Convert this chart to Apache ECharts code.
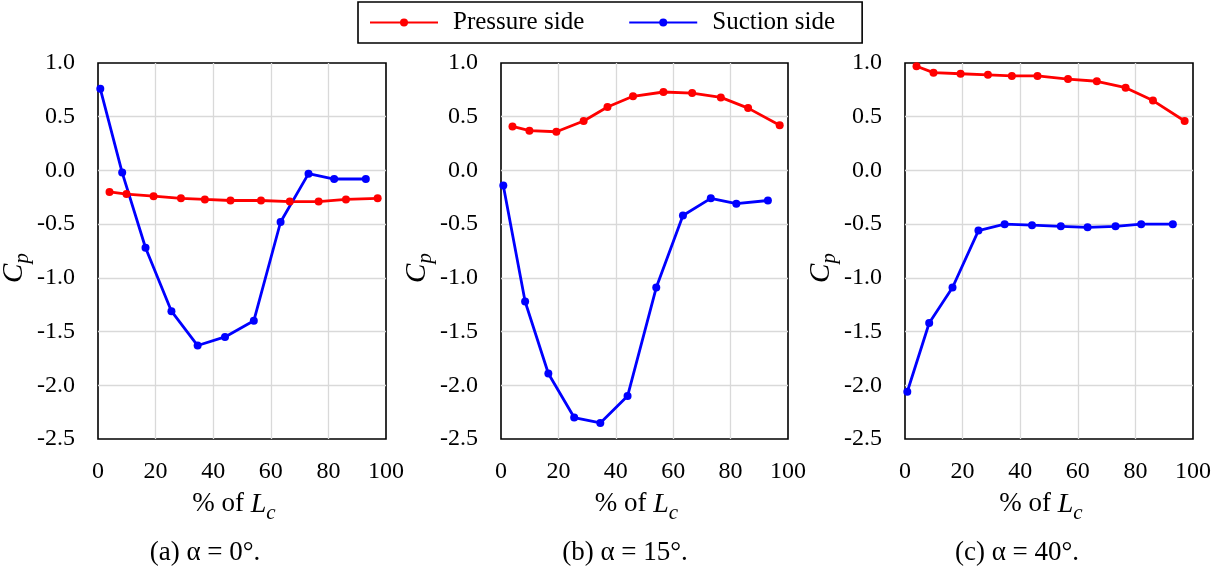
<!DOCTYPE html>
<html>
<head>
<meta charset="utf-8">
<script src="https://cdn.jsdelivr.net/npm/echarts@6/dist/echarts.min.js"></script>
<style>
  html, body { margin: 0; padding: 0; background: #fff; }
  #chart { width: 1226px; height: 566px; }
</style>
</head>
<body>
<div id="chart"></div>
<script>
// Chord positions (% of L_c) of the pressure taps on each side of the blade
const pressureX = [4.0, 9.9, 19.3, 28.8, 37.1, 46.0, 56.6, 66.6, 76.6, 86.1, 97.1];
const suctionX  = [0.8, 8.4, 16.5, 25.5, 34.6, 44.1, 54.1, 63.4, 73.1, 82.0, 93.0];

// Pressure coefficient Cp, one pair of arrays per angle of attack
const pressure0  = [-0.20, -0.22, -0.24, -0.26, -0.27, -0.28, -0.28, -0.29, -0.29, -0.27, -0.26];
const suction0   = [0.76, -0.02, -0.72, -1.31, -1.63, -1.55, -1.40, -0.48, -0.03, -0.08, -0.08];
const pressure15 = [0.41, 0.37, 0.36, 0.46, 0.59, 0.69, 0.73, 0.72, 0.68, 0.58, 0.42];
const suction15  = [-0.14, -1.22, -1.89, -2.30, -2.35, -2.10, -1.09, -0.42, -0.26, -0.31, -0.28];
const pressure40 = [0.97, 0.91, 0.90, 0.89, 0.88, 0.88, 0.85, 0.83, 0.77, 0.65, 0.46];
const suction40  = [-2.06, -1.42, -1.09, -0.56, -0.50, -0.51, -0.52, -0.53, -0.52, -0.50, -0.50];

const captions = ['(a) \u03b1 = 0\u00b0.', '(b) \u03b1 = 15\u00b0.', '(c) \u03b1 = 40\u00b0.'];
const seriesNames = ['Pressure side', 'Suction side'];

const FONT = 'Liberation Serif';
const RED = '#ff0000';
const BLUE = '#0000ff';

// Panel frames: left edge, width and caption centre
const panels = [
  { left: 98,  width: 288, cap: 205,  p: pressure0,  s: suction0 },
  { left: 501, width: 287, cap: 625,  p: pressure15, s: suction15 },
  { left: 905, width: 288, cap: 1017, p: pressure40, s: suction40 }
];
const TOP = 63, HEIGHT = 376;

const zip = (xs, ys) => xs.map((x, i) => [x, ys[i]]);

const grids = [], xAxes = [], yAxes = [], series = [], graphics = [];

panels.forEach((pn, i) => {
  grids.push({
    left: pn.left, top: TOP, width: pn.width, height: HEIGHT,
    show: true, borderColor: '#000', borderWidth: 1.6, backgroundColor: 'transparent'
  });
  xAxes.push({
    type: 'value', gridIndex: i, min: 0, max: 100, interval: 20,
    axisLine: { show: false }, axisTick: { show: false },
    axisLabel: { fontFamily: FONT, fontSize: 24, color: '#000', margin: 21 },
    splitLine: { show: true, showMinLine: false, showMaxLine: false,
                 lineStyle: { color: '#d9d9d9', width: 1.3 } }
  });
  yAxes.push({
    type: 'value', gridIndex: i, min: -2.5, max: 1, interval: 0.5,
    axisLine: { show: false }, axisTick: { show: false },
    axisLabel: { fontFamily: FONT, fontSize: 24, color: '#000', margin: 23,
                 formatter: v => v.toFixed(1) },
    splitLine: { show: true, showMinLine: false, showMaxLine: false,
                 lineStyle: { color: '#d9d9d9', width: 1.3 } }
  });
  [[seriesNames[0], pn.p, pressureX, RED], [seriesNames[1], pn.s, suctionX, BLUE]].forEach(([name, ys, xs, col]) => {
    series.push({
      name, type: 'line', xAxisIndex: i, yAxisIndex: i,
      data: zip(xs, ys), clip: false,
      symbol: 'circle', symbolSize: 8, showSymbol: true,
      itemStyle: { color: col }, lineStyle: { color: col, width: 2.8 }
    });
  });

  // y-axis title C_p
  graphics.push({
    type: 'text', x: pn.left - 82, y: 268, rotation: Math.PI / 2,
    style: {
      text: '{c|C}{s|p}', align: 'center', verticalAlign: 'middle',
      rich: {
        c: { fontFamily: FONT, fontStyle: 'italic', fontSize: 29, lineHeight: 29, verticalAlign: 'top', fill: '#000' },
        s: { fontFamily: FONT, fontStyle: 'italic', fontSize: 21, lineHeight: 33, verticalAlign: 'bottom', fill: '#000' }
      }
    }
  });
  // x-axis title % of L_c
  graphics.push({
    type: 'text', x: pn.left + pn.width / 2 - 8, y: 507,
    style: {
      text: '{n|% of }{c|L}{s|c}', align: 'center', verticalAlign: 'middle',
      rich: {
        n: { fontFamily: FONT, fontSize: 27, lineHeight: 28, verticalAlign: 'top', fill: '#000' },
        c: { fontFamily: FONT, fontStyle: 'italic', fontSize: 28, lineHeight: 28, verticalAlign: 'top', fill: '#000' },
        s: { fontFamily: FONT, fontStyle: 'italic', fontSize: 21, lineHeight: 33, verticalAlign: 'bottom', fill: '#000' }
      }
    }
  });
  // panel caption
  graphics.push({
    type: 'text', x: pn.cap, y: 553,
    style: {
      text: captions[i], align: 'center', verticalAlign: 'middle',
      fontFamily: FONT, fontSize: 27, fill: '#000'
    }
  });
});

const chart = echarts.init(document.getElementById('chart'), null, { renderer: 'canvas' });
chart.setOption({
  animation: false,
  backgroundColor: '#fff',
  legend: {
    data: seriesNames,
    left: 358, top: 2,
    padding: [8, 27, 8, 11],
    borderColor: '#000', borderWidth: 1.6,
    itemWidth: 68, itemHeight: 10, itemGap: 44,
    textStyle: { fontFamily: FONT, fontSize: 25, color: '#000', padding: [0, 0, 0, 10] }
  },
  grid: grids,
  xAxis: xAxes,
  yAxis: yAxes,
  series,
  graphic: graphics
});
</script>
</body>
</html>
